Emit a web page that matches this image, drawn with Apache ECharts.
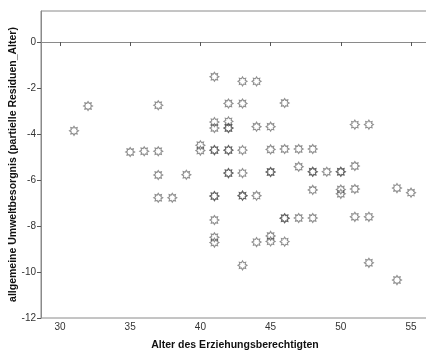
<!DOCTYPE html>
<html>
<head>
<meta charset="utf-8">
<script src="https://cdn.jsdelivr.net/npm/echarts@6/dist/echarts.min.js"></script>
<style>
  html, body { margin: 0; padding: 0; background: #fff; }
  #chart { width: 426px; height: 350px; }
</style>
</head>
<body>
<div id="chart"></div>
<script>
// Alter des Erziehungsberechtigten
var ageValues = [
  31, 32, 35, 36, 37, 37, 37, 37, 38, 39,
  40, 40,
  41, 41, 41, 41, 41, 41, 41, 41, 41, 41,
  42, 42, 42, 42, 42, 42, 42, 42,
  43, 43, 43, 43, 43, 43, 43,
  44, 44, 44, 44,
  45, 45, 45, 45, 45, 45,
  46, 46, 46, 46, 46,
  47, 47, 47,
  48, 48, 48, 48, 48,
  49,
  50, 50, 50, 50,
  51, 51, 51, 51,
  52, 52, 52,
  54, 54,
  55
];
// partielle Residuen (Umweltbesorgnis)
var residualValues = [
  -3.86, -2.78, -4.78, -4.75, -4.75, -2.75, -5.78, -6.77, -6.77, -5.77,
  -4.49, -4.72,
  -1.51, -3.48, -3.74, -4.70, -4.70, -6.70, -6.70, -7.74, -8.49, -8.72,
  -2.67, -3.45, -3.74, -3.74, -4.70, -4.70, -5.70, -5.70,
  -1.71, -2.67, -4.70, -5.70, -6.68, -6.68, -9.71,
  -1.71, -3.68, -6.68, -8.70,
  -3.68, -4.67, -5.65, -5.65, -8.43, -8.67,
  -2.65, -4.65, -7.66, -7.66, -8.68,
  -4.65, -5.42, -7.65,
  -4.65, -5.64, -5.64, -6.43, -7.65,
  -5.64,
  -5.64, -5.64, -6.41, -6.60,
  -3.59, -5.39, -6.39, -7.60,
  -3.59, -7.60, -9.60,
  -6.35, -10.35,
  -6.55
];
var xTicks = [30, 35, 40, 45, 50, 55];
var yTicks = [-12, -10, -8, -6, -4, -2, 0];

var points = ageValues.map(function (a, i) {
  return [a, residualValues[i]];
});

// sun-like marker (8-pointed star outline)
var sunSymbol = "path://M100,50L79.56,62.25L85.36,85.36L62.25,79.56L50,100L37.75,79.56L14.64,85.36L20.44,62.25L0,50L20.44,37.75L14.64,14.64L37.75,20.44L50,0L62.25,20.44L85.36,14.64L79.56,37.75Z";

var chart = echarts.init(document.getElementById("chart"), null, { renderer: "canvas" });
chart.setOption({
  animation: false,
  grid: {
    left: 41,
    right: -3,
    top: 11,
    bottom: 32,
    containLabel: false,
    outerBoundsMode: "none",
    show: true,
    borderColor: "#8a8a8a",
    borderWidth: 1,
    backgroundColor: "#fff"
  },
  xAxis: {
    type: "value",
    min: 28.65,
    max: 56.28,
    name: "Alter des Erziehungsberechtigten",
    nameLocation: "middle",
    nameGap: 22,
    nameTextStyle: { fontFamily: "Liberation Sans", fontWeight: "bold", fontSize: 10.5, color: "#111" },
    splitLine: { show: false },
    axisLine: { lineStyle: { color: "#8a8a8a" } },
    axisTick: { customValues: xTicks, length: 4, lineStyle: { color: "#555" } },
    axisLabel: { customValues: xTicks, fontFamily: "Liberation Sans", fontSize: 10, color: "#333", margin: 4 }
  },
  yAxis: {
    type: "value",
    min: -12,
    max: 1.35,
    name: "allgemeine Umweltbesorgnis (partielle Residuen_Alter)",
    nameLocation: "middle",
    nameGap: 22,
    nameMoveOverlap: false,
    nameTextStyle: { fontFamily: "Liberation Sans", fontWeight: "bold", fontSize: 10.5, color: "#111" },
    splitLine: { show: false },
    axisLine: { show: true, lineStyle: { color: "#8a8a8a" } },
    axisTick: { show: true, customValues: yTicks, length: 4, lineStyle: { color: "#555" } },
    axisLabel: { customValues: yTicks, fontFamily: "Liberation Sans", fontSize: 10, color: "#333", margin: 5 }
  },
  series: [
    {
      type: "scatter",
      data: points,
      symbol: sunSymbol,
      symbolSize: 9,
      itemStyle: {
        color: "rgba(255,255,255,0)",
        borderColor: "rgba(70,70,70,0.75)",
        borderWidth: 1.1
      }
    }
  ]
});
</script>
</body>
</html>
